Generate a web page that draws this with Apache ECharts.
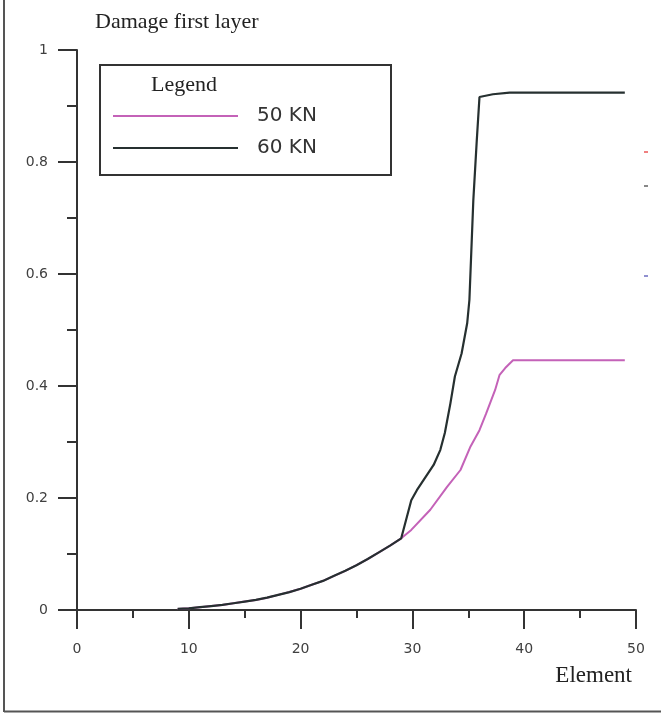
<!DOCTYPE html>
<html>
<head>
<meta charset="utf-8">
<title>Damage first layer</title>
<script src="https://cdn.jsdelivr.net/npm/echarts@6/dist/echarts.min.js"></script>
<style>
  html, body { margin: 0; padding: 0; background: #ffffff; }
  #chart { width: 661px; height: 713px; }
</style>
</head>
<body>
<div id="chart"></div>
<script>
// Shared low-damage branch (both loads follow the same curve up to element 29)
const sharedElements = [9, 10, 11, 12, 13, 14, 15, 16, 17, 18, 19, 20, 21, 22, 23, 24, 25, 26, 27, 28, 29];
const sharedDamage   = [0.002, 0.003, 0.005, 0.007, 0.009, 0.012, 0.015, 0.018, 0.022, 0.027, 0.032, 0.038, 0.045, 0.052, 0.061, 0.070, 0.080, 0.091, 0.103, 0.115, 0.128];

// 50 KN branch after divergence
const elements50 = [29.9, 31.6, 33.1, 34.3, 35.2, 36.0, 36.6, 37.4, 37.8, 38.3, 39.0, 49.0];
const damage50   = [0.143, 0.179, 0.220, 0.250, 0.292, 0.321, 0.351, 0.393, 0.420, 0.432, 0.446, 0.446];

// 60 KN branch after divergence
const elements60 = [29.9, 30.4, 31.9, 32.5, 32.9, 33.4, 33.8, 34.4, 34.9, 35.1, 35.45, 35.75, 36.0, 37.2, 38.7, 49.0];
const damage60   = [0.196, 0.214, 0.259, 0.286, 0.316, 0.369, 0.417, 0.458, 0.512, 0.554, 0.732, 0.836, 0.916, 0.921, 0.924, 0.924];

const seriesNames = ['50 KN', '60 KN'];
const seriesColors = ['#c462b8', '#263030'];

const xTicks = { min: 0, max: 50, interval: 10 };
const yTicks = { min: 0, max: 1, interval: 0.2 };

function pairs(xs, ys) {
  return xs.map((x, i) => [x, ys[i]]);
}

const data50 = pairs(sharedElements, sharedDamage).concat(pairs(elements50, damage50));
const data60 = pairs(sharedElements, sharedDamage).concat(pairs(elements60, damage60));

const chart = echarts.init(document.getElementById('chart'), null, { renderer: 'canvas' });

const axisColor = '#333333';
const labelStyle = { color: '#404040', fontFamily: 'DejaVu Sans', fontSize: 14 };
const serif = 'Liberation Serif';

chart.setOption({
  animation: false,
  backgroundColor: '#ffffff',
  grid: { left: 77, right: 25, top: 50, bottom: 103, containLabel: false },
  xAxis: {
    type: 'value',
    min: xTicks.min, max: xTicks.max, interval: xTicks.interval,
    axisLine: { show: true, onZero: false, lineStyle: { color: axisColor, width: 2 } },
    axisTick: { show: true, inside: false, length: 19, lineStyle: { color: axisColor, width: 2 } },
    minorTick: { show: true, splitNumber: 2, length: 8, lineStyle: { color: axisColor, width: 2 } },
    splitLine: { show: false },
    axisLabel: Object.assign({ margin: 32 }, labelStyle)
  },
  yAxis: {
    type: 'value',
    min: yTicks.min, max: yTicks.max, interval: yTicks.interval,
    axisLine: { show: true, onZero: false, lineStyle: { color: axisColor, width: 2 } },
    axisTick: { show: true, inside: false, length: 19, lineStyle: { color: axisColor, width: 2 } },
    minorTick: { show: true, splitNumber: 2, length: 10, lineStyle: { color: axisColor, width: 2 } },
    splitLine: { show: false },
    axisLabel: Object.assign({ margin: 29 }, labelStyle)
  },
  legend: {
    orient: 'vertical',
    left: 108,
    top: 101,
    icon: 'rect',
    itemWidth: 125,
    itemHeight: 2,
    itemGap: 12,
    selectedMode: false,
    data: seriesNames,
    textStyle: { fontFamily: 'DejaVu Sans', fontSize: 20, color: '#333333', lineHeight: 20, padding: [0, 0, 0, 14] }
  },
  graphic: [
    // outer frame (left and bottom edges)
    { type: 'line', silent: true, shape: { x1: 4, y1: 0, x2: 4, y2: 712 }, style: { stroke: '#555555', lineWidth: 2 } },
    { type: 'line', silent: true, shape: { x1: 4, y1: 711.5, x2: 661, y2: 711.5 }, style: { stroke: '#555555', lineWidth: 2 } },
    // legend frame and heading
    { type: 'rect', silent: true, shape: { x: 100, y: 65, width: 291, height: 110 }, style: { fill: 'rgba(0,0,0,0)', stroke: '#333333', lineWidth: 2 } },
    { type: 'text', silent: true, x: 184, y: 85, style: { text: 'Legend', font: '22px "' + serif + '"', fill: '#222222', textAlign: 'center', textVerticalAlign: 'middle' } },
    // chart heading and axis name
    { type: 'text', silent: true, x: 95, y: 22, style: { text: 'Damage first layer', font: '22px "' + serif + '"', fill: '#222222', textAlign: 'left', textVerticalAlign: 'middle' } },
    { type: 'text', silent: true, x: 632, y: 676, style: { text: 'Element', font: '23px "' + serif + '"', fill: '#222222', textAlign: 'right', textVerticalAlign: 'middle' } },
    // small colour keys at the right edge
    { type: 'rect', silent: true, shape: { x: 644, y: 151, width: 4, height: 2 }, style: { fill: '#f08080' } },
    { type: 'rect', silent: true, shape: { x: 644, y: 185, width: 4, height: 2 }, style: { fill: '#888888' } },
    { type: 'rect', silent: true, shape: { x: 644, y: 275, width: 4, height: 2 }, style: { fill: '#9090d0' } }
  ],
  series: [
    {
      name: seriesNames[0], type: 'line', data: data50, z: 2,
      showSymbol: false, symbol: 'none', smooth: false,
      color: seriesColors[0],
      lineStyle: { color: seriesColors[0], width: 2 }
    },
    {
      name: seriesNames[1], type: 'line', data: data60, z: 3,
      showSymbol: false, symbol: 'none', smooth: false,
      color: seriesColors[1],
      lineStyle: { color: seriesColors[1], width: 2.2 }
    }
  ]
});
</script>
</body>
</html>
